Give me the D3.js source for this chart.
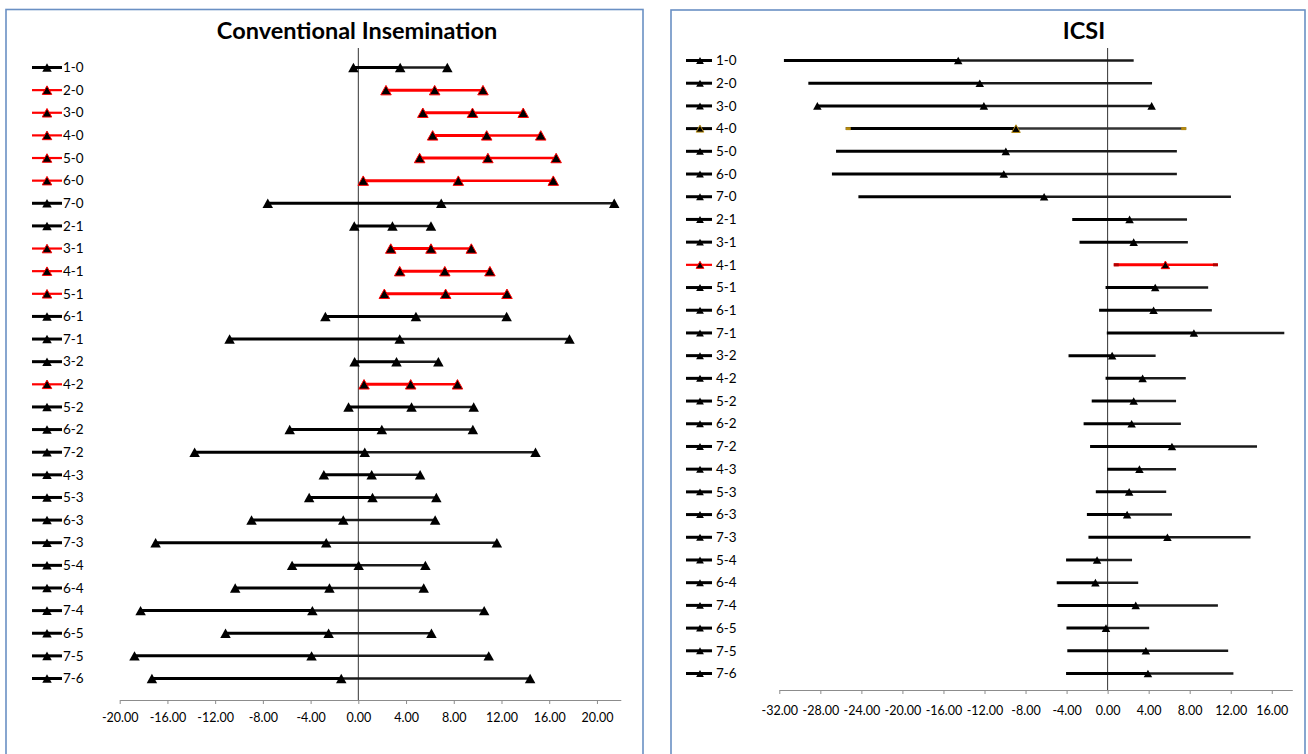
<!DOCTYPE html>
<html>
<head>
<meta charset="utf-8">
<script src="https://cdn.jsdelivr.net/npm/d3@7"></script>
<style>
  html, body { margin: 0; padding: 0; background: #fff; }
  svg { display: block; }
  text { font-family: Lato, "Open Sans", sans-serif; fill: #000; }
</style>
</head>
<body>
<svg id="chart" width="1308" height="754"></svg>
<script>
// ---------- DATA ----------
const categories = ["1-0","2-0","3-0","4-0","5-0","6-0","7-0","2-1","3-1","4-1","5-1","6-1","7-1","3-2","4-2","5-2","6-2","7-2","4-3","5-3","6-3","7-3","5-4","6-4","7-4","6-5","7-5","7-6"];

// Conventional Insemination: lower CI, mean difference, upper CI
const ciLower = [-0.41,2.32,5.41,6.23,5.14,0.41,-7.59,-0.34,2.72,3.47,2.18,-2.76,-10.79,-0.31,0.48,-0.82,-5.75,-13.72,-2.89,-4.12,-8.95,-16.99,-5.55,-10.32,-18.25,-11.13,-18.76,-17.30];
const ciMean  = [3.51,6.40,9.57,10.76,10.86,8.38,6.95,2.86,6.09,7.25,7.32,4.83,3.47,3.20,4.39,4.46,1.97,0.54,1.12,1.19,-1.26,-2.69,0.03,-2.42,-3.85,-2.49,-3.92,-1.43];
const ciUpper = [7.46,10.45,13.82,15.29,16.58,16.34,21.45,6.09,9.47,11.03,12.46,12.43,17.70,6.71,8.31,9.67,9.60,14.85,5.18,6.54,6.44,11.61,5.62,5.48,10.55,6.13,10.93,14.40];
const ciHighlight = ["2-0","3-0","4-0","5-0","6-0","3-1","4-1","5-1","4-2"];
const ciTicks = [-20,-16,-12,-8,-4,0,4,8,12,16,20];

// ICSI
const icsiLower = [-31.55,-29.17,-28.29,-25.52,-26.47,-26.87,-24.29,-3.45,-2.74,0.60,-0.20,-0.83,-0.08,-3.81,-0.20,-1.55,-2.34,-1.71,-0.04,-1.15,-2.02,-1.87,-4.05,-4.96,-4.88,-4.01,-3.93,-4.05];
const icsiMean  = [-14.56,-12.46,-12.06,-8.93,-9.92,-10.12,-6.19,2.14,2.54,5.63,4.64,4.48,8.41,0.44,3.41,2.54,2.34,6.27,3.10,2.10,1.90,5.83,-1.03,-1.19,2.74,-0.16,3.73,3.93];
const icsiUpper = [2.54,4.33,4.29,7.66,6.75,6.75,12.02,7.74,7.82,10.75,9.80,10.16,17.22,4.68,7.62,6.67,7.14,14.56,6.67,5.71,6.27,13.93,2.38,2.98,10.75,4.05,11.75,12.26];
const icsiRed = ["4-1"];
const icsiGold = ["4-0"];
const icsiEndMarkers = ["3-0"];
const icsiTicks = [-32,-28,-24,-20,-16,-12,-8,-4,0,4,8,12,16];

const titles = ["Conventional Insemination", "ICSI"];

// ---------- DRAW ----------
const svg = d3.select("#chart");
const RED = "#ff0000", GOLD = "#b58a10", BORDER = "#6a90c4";

// Box-centred triangle marker (Excel style)
const excelTriangle = {
  draw(ctx, size) {
    const w = Math.sqrt(size), h = w * 0.9;
    ctx.moveTo(0, -h / 2);
    ctx.lineTo(w / 2, h / 2);
    ctx.lineTo(-w / 2, h / 2);
    ctx.closePath();
  }
};
const tri = s => d3.symbol().type(excelTriangle).size(s)();

function panel(cfg) {
  const g = svg.append("g");
  // border
  g.append("rect")
    .attr("x", cfg.box[0]).attr("y", cfg.box[1])
    .attr("width", cfg.box[2]).attr("height", cfg.box[3])
    .attr("fill", "#fff").attr("stroke", BORDER).attr("stroke-width", 1.6);

  const x = d3.scaleLinear().domain(cfg.domain).range(cfg.xRange);
  const y = d3.scalePoint().domain(categories).range(cfg.yRange);

  // title
  g.append("text").attr("x", cfg.titleX).attr("y", 39)
    .attr("text-anchor", "middle").attr("font-weight", "bold")
    .attr("font-size", cfg.titleSize).text(cfg.title);

  // x axis
  const axis = d3.axisBottom(x).tickValues(cfg.ticks)
    .tickSizeInner(4).tickSizeOuter(0).tickPadding(cfg.tickPad)
    .tickFormat(d => d.toFixed(2));
  const ax = g.append("g").attr("transform", `translate(0,${cfg.axisY})`).call(axis);
  ax.select(".domain").attr("stroke", "#8c8c8c").attr("stroke-width", 1.2);
  ax.selectAll(".tick line").attr("stroke", "#8c8c8c");
  ax.selectAll(".tick text").attr("font-size", 12.5).attr("font-family", "Lato, sans-serif").attr("fill", "#000");

  // zero line
  g.append("line")
    .attr("x1", x(0)).attr("x2", x(0))
    .attr("y1", cfg.zeroTop).attr("y2", cfg.axisY)
    .attr("stroke", "#333").attr("stroke-width", 1);

  // rows
  const rows = categories.map((c, i) => ({
    cat: c, lo: cfg.lower[i], mid: cfg.mean[i], hi: cfg.upper[i]
  }));
  const rg = g.selectAll("g.row").data(rows).join("g").attr("class", "row");

  rg.append("line")
    .attr("x1", d => x(d.lo)).attr("x2", d => x(d.mid))
    .attr("y1", d => y(d.cat)).attr("y2", d => y(d.cat))
    .attr("stroke", d => cfg.color(d.cat)).attr("stroke-width", 3);
  rg.append("line")
    .attr("x1", d => x(d.mid)).attr("x2", d => x(d.hi))
    .attr("y1", d => y(d.cat)).attr("y2", d => y(d.cat))
    .attr("stroke", d => cfg.color2(d.cat)).attr("stroke-width", 2.5);

  // end caps (ICSI coloured series)
  if (cfg.capColor) {
    rg.filter(d => cfg.capColor(d.cat)).each(function(d) {
      const s = d3.select(this);
      [[d.lo, 1], [d.hi, -1]].forEach(([v, dir]) => {
        s.append("line")
          .attr("x1", x(v)).attr("x2", x(v) + dir * 5)
          .attr("y1", y(d.cat)).attr("y2", y(d.cat))
          .attr("stroke", cfg.capColor(d.cat)).attr("stroke-width", 3);
      });
    });
  }

  // markers
  rg.each(function(d) {
    const s = d3.select(this);
    const pts = cfg.allMarkers(d.cat) ? [d.lo, d.mid, d.hi] : [d.mid];
    pts.forEach(v => {
      s.append("path").attr("d", tri(cfg.markSize))
        .attr("transform", `translate(${x(v)},${y(d.cat)})`)
        .attr("fill", "#000")
        .attr("stroke", cfg.markStroke(d.cat)).attr("stroke-width", cfg.markStroke(d.cat) === "none" ? 0 : 1);
    });
  });

  // legend
  const lg = g.selectAll("g.leg").data(categories).join("g").attr("class", "leg")
    .attr("transform", c => `translate(0,${y(c)})`);
  lg.append("line")
    .attr("x1", cfg.legLine[0]).attr("x2", cfg.legLine[1]).attr("y1", 0).attr("y2", 0)
    .attr("stroke", c => cfg.legColor(c)).attr("stroke-width", c => cfg.legColor(c) === RED ? 2.2 : 3);
  lg.append("path").attr("d", tri(cfg.legMark))
    .attr("transform", `translate(${cfg.legMarkX},0)`)
    .attr("fill", "#000")
    .attr("stroke", c => cfg.markStroke(c)).attr("stroke-width", c => cfg.markStroke(c) === "none" ? 0 : 1);
  lg.append("text").attr("x", cfg.legText).attr("y", 0).attr("dy", "0.35em")
    .attr("font-size", 13.5).text(c => c);
}

panel({
  title: titles[0], titleX: 357, titleSize: 23.5,
  box: [6, 9.5, 637, 760],
  domain: [-20, 22], xRange: [119.7, 620.8], yRange: [67.5, 678.5],
  ticks: ciTicks, axisY: 700, tickPad: 9, zeroTop: 48,
  lower: ciLower, mean: ciMean, upper: ciUpper,
  color: c => ciHighlight.includes(c) ? RED : "#000",
  color2: c => ciHighlight.includes(c) ? RED : "#1a1a1a",
  markStroke: c => ciHighlight.includes(c) ? RED : "none",
  allMarkers: () => true, markSize: 110,
  legColor: c => ciHighlight.includes(c) ? RED : "#000",
  legLine: [32, 62], legMarkX: 47, legMark: 90, legText: 63
});

panel({
  title: titles[1], titleX: 1084, titleSize: 23.5,
  box: [671, 10, 634, 760],
  domain: [-32, 18], xRange: [779.3, 1292.3], yRange: [60.5, 673.5],
  ticks: icsiTicks, axisY: 690, tickPad: 12, zeroTop: 48,
  lower: icsiLower, mean: icsiMean, upper: icsiUpper,
  color: c => icsiRed.includes(c) ? RED : "#000",
  color2: c => icsiRed.includes(c) ? RED : (icsiGold.includes(c) ? "#333" : "#1a1a1a"),
  capColor: c => icsiRed.includes(c) ? "#b00000" : (icsiGold.includes(c) ? GOLD : null),
  markStroke: c => icsiRed.includes(c) ? RED : (icsiGold.includes(c) ? GOLD : "none"),
  allMarkers: c => icsiEndMarkers.includes(c), markSize: 72,
  legColor: c => icsiRed.includes(c) ? RED : "#000",
  legLine: [686, 712], legMarkX: 700, legMark: 60, legText: 716
});
</script>
</body>
</html>
